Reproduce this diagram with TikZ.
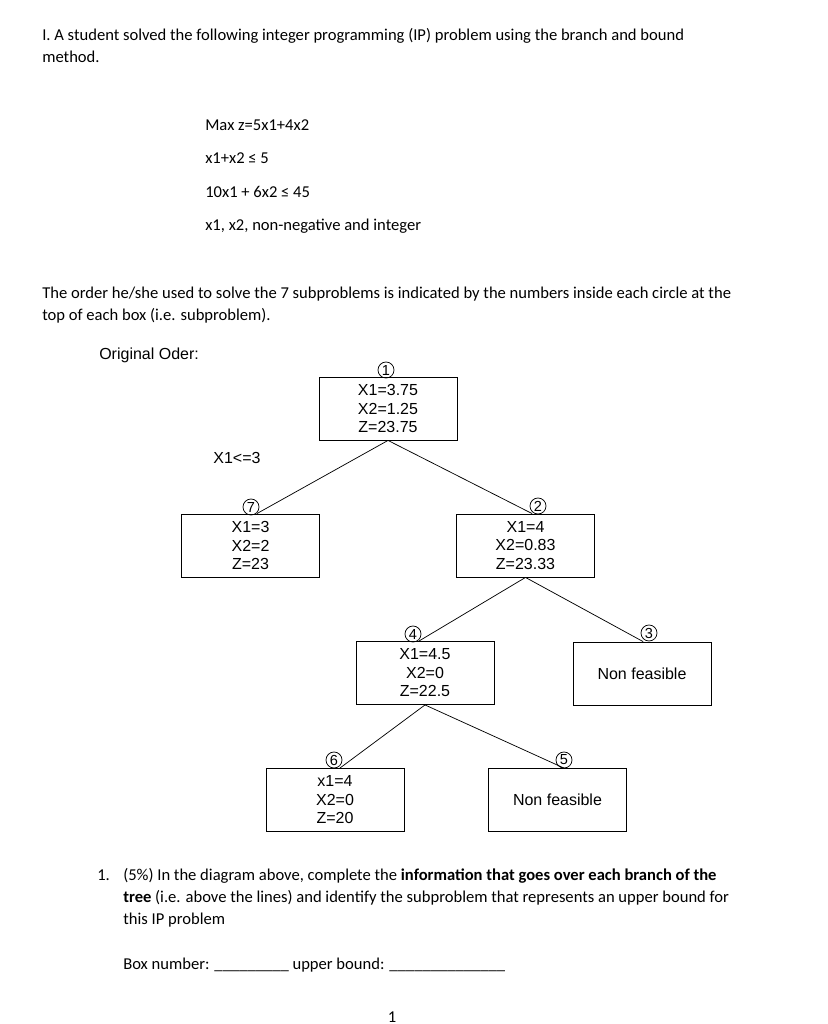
\documentclass[tikz,border=0pt]{standalone}
\usepackage{fontspec}
\setmainfont{Carlito}
\newfontfamily\arialfont{Liberation Sans}

\tikzset{
  subbox/.style={draw, line width=0.6pt, minimum width=94.9pt, minimum height=43.3pt,
    inner sep=0pt, align=center, font=\arialfont\fontsize{11}{12.7}\selectfont},
  order/.style={draw, circle, line width=0.5pt, inner sep=0pt, minimum size=11pt,
    font=\arialfont\fontsize{10}{10}\selectfont},
  branch/.style={line width=0.5pt},
  txt/.style={anchor=base west, inner sep=0pt, font=\fontsize{11.4}{13}\selectfont},
  difont/.style={anchor=base west, inner sep=0pt, font=\arialfont\fontsize{11}{13}\selectfont}
}

\begin{document}
\begin{tikzpicture}[x=0.6875pt, y=-0.6875pt]
\useasboundingbox (0,0) rectangle (827,1024);

% heading and problem
\node[txt] (t1) at (42,40) {I. A student solved the following integer programming (IP) problem using the branch and bound};
\node[txt] (t2) at (42,62) {method.};
\node[txt] (p1) at (205,130) {Max z=5x1+4x2};
\node[txt] (p2) at (205,163) {x1+x2 ≤ 5};
\node[txt] (p3) at (205,197) {10x1 + 6x2 ≤ 45};
\node[txt] (p4) at (205,230) {x1, x2, non-negative and integer};
\node[txt] (t3) at (42,298) {The order he/she used to solve the 7 subproblems is indicated by the numbers inside each circle at the};
\node[txt] (t4) at (42,320) {top of each box (i.e. subproblem).};
\node[difont] (orig) at (99,359) {Original Oder:};

% subproblem boxes
\node[subbox] (b1) at (388,408.5) {X1=3.75\\X2=1.25\\Z=23.75};
\node[subbox] (b7) at (250.5,545.5) {X1=3\\X2=2\\Z=23};
\node[subbox] (b2) at (525.5,545.5) {X1=4\\X2=0.83\\Z=23.33};
\node[subbox] (b4) at (425,673) {X1=4.5\\X2=0\\Z=22.5};
\node[subbox] (b3) at (642,673.5) {Non feasible};
\node[subbox] (b6) at (335,800) {x1=4\\X2=0\\Z=20};
\node[subbox] (b5) at (557.5,800) {Non feasible};

% order circles
\node[order] (c1) at (386,370) {1};
\node[order] (c7) at (251,507) {7};
\node[order] (c2) at (538,506) {2};
\node[order] (c4) at (413,634) {4};
\node[order] (c3) at (649,633) {3};
\node[order] (c6) at (334,760) {6};
\node[order] (c5) at (564,760) {5};

% branches
\draw[branch] (b1.south) -- (b7.north -| c7.south east);
\draw[branch] (b1.south) -- (b2.north -| c2.south west);
\draw[branch] (b2.south) -- (b4.north -| c4.south east);
\draw[branch] (b2.south) -- (b3.north -| c3.south west);
\draw[branch] (b4.south) -- (b6.north -| c6.south east);
\draw[branch] (b4.south) -- (b5.north -| c5);
\node[difont, anchor=center] (br1) at (237,458) {X1<=3};

% question
\node[txt] (q0) at (97,880) {1.};
\node[txt] (q1) at (123,880) {(5\%) In the diagram above, complete the \textbf{information that goes over each branch of the}};
\node[txt] (q2) at (123,902) {\textbf{tree} (i.e. above the lines) and identify the subproblem that represents an upper bound for};
\node[txt] (q3) at (123,924) {this IP problem};
\node[txt] (q4) at (123,969) {Box number: \_\_\_\_\_\_\_\_\_ upper bound: \_\_\_\_\_\_\_\_\_\_\_\_\_\_};
\node[txt, anchor=base] (pg) at (392,1022) {1};
\end{tikzpicture}
\end{document}
